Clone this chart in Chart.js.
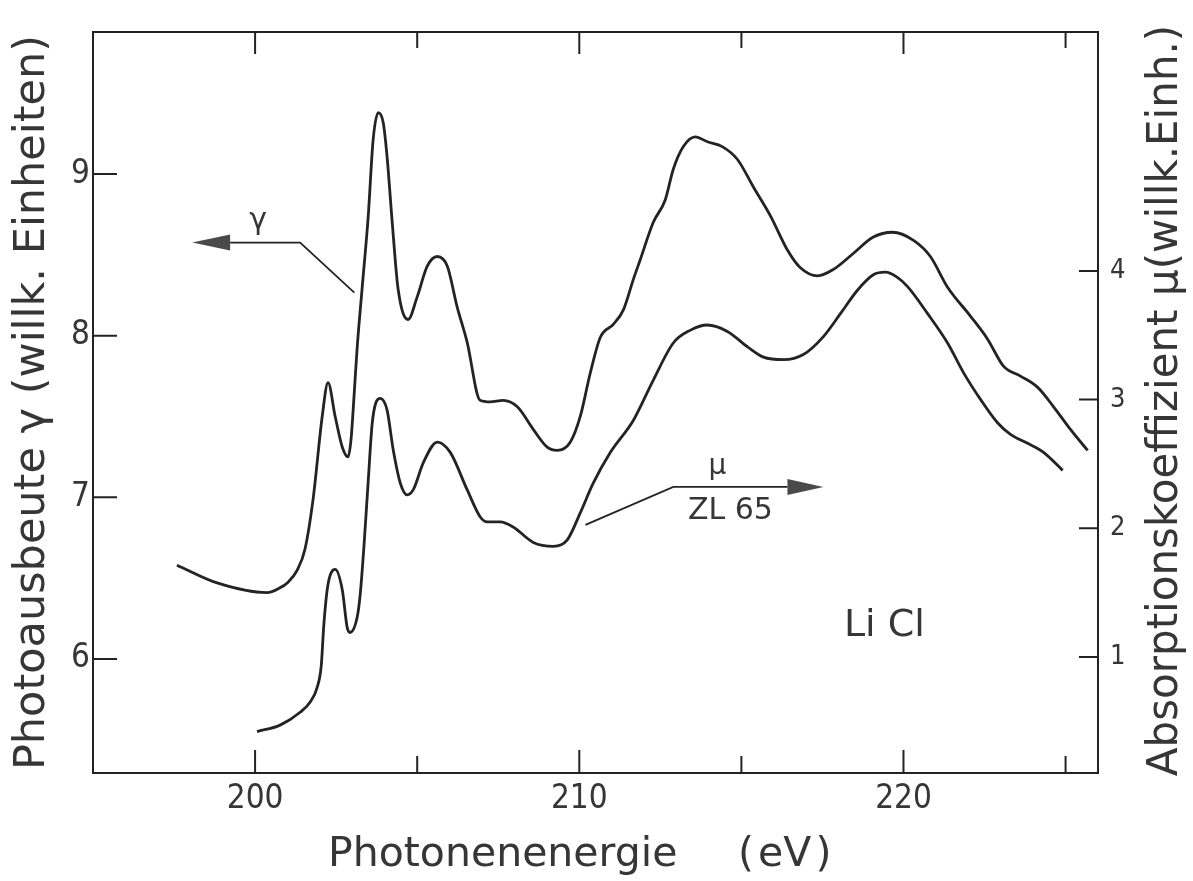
<!DOCTYPE html>
<html lang="de">
<head>
<meta charset="UTF-8">
<title>LiCl - Photoausbeute und Absorption</title>
<script src="https://cdn.jsdelivr.net/npm/chart.js"></script>
<style>
    html, body { margin: 0; padding: 0; background: #fff; }
    canvas { display: block; }
</style>
</head>
<body>
<canvas id="licl" width="1193" height="881"></canvas>
<script>
    // Photoausbeute gamma (left axis)
    const gammaEnergy = [197.59, 198.83, 200.37, 200.77, 200.99, 201.30, 201.54, 201.79, 202.07, 202.25,
        202.47, 202.69, 202.87, 202.96, 203.05, 203.15, 203.30, 203.49, 203.64, 203.80,
        203.95, 204.07, 204.23, 204.41, 204.72, 205.00, 205.31, 205.62, 205.93, 206.23,
        206.54, 206.94, 207.25, 207.65, 208.09, 208.58, 209.01, 209.32, 209.72, 210.03,
        210.34, 210.65, 211.05, 211.36, 211.67, 211.88, 212.28, 212.65, 212.90, 213.21,
        213.58, 213.95, 214.41, 214.88, 215.37, 215.90, 216.42, 216.82, 217.35, 217.84,
        218.46, 219.07, 219.66, 220.31, 220.83, 221.36, 222.07, 222.59, 223.09, 223.61,
        224.14, 224.63, 225.15, 225.68];
    const gammaYield = [6.58, 6.47, 6.41, 6.44, 6.47, 6.55, 6.68, 6.99, 7.50, 7.71,
        7.50, 7.31, 7.25, 7.36, 7.62, 7.93, 8.29, 8.74, 9.21, 9.38,
        9.32, 9.11, 8.70, 8.29, 8.10, 8.24, 8.43, 8.49, 8.43, 8.18,
        7.96, 7.60, 7.59, 7.60, 7.56, 7.42, 7.31, 7.29, 7.34, 7.50,
        7.77, 7.99, 8.07, 8.16, 8.35, 8.47, 8.70, 8.84, 9.03, 9.17,
        9.23, 9.20, 9.17, 9.09, 8.92, 8.74, 8.53, 8.42, 8.37, 8.41,
        8.51, 8.61, 8.64, 8.59, 8.49, 8.30, 8.12, 7.98, 7.81, 7.75,
        7.68, 7.56, 7.42, 7.29];

    // Absorptionskoeffizient mu, ZL 65 (right axis)
    const muEnergy = [200.06, 200.77, 201.39, 201.70, 201.91, 202.04, 202.12, 202.24, 202.47, 202.69,
        202.84, 202.93, 203.15, 203.24, 203.36, 203.49, 203.61, 203.73, 203.86, 204.07,
        204.26, 204.48, 204.69, 204.88, 205.19, 205.62, 206.02, 206.54, 206.94, 207.16,
        207.56, 207.96, 208.58, 209.20, 209.63, 210.03, 210.43, 210.96, 211.67, 212.28,
        212.90, 213.43, 213.95, 214.57, 215.19, 215.68, 216.30, 216.91, 217.53, 218.06,
        218.58, 219.07, 219.44, 219.81, 220.12, 220.74, 221.36, 221.85, 222.38, 222.90,
        223.30, 223.83, 224.32, 224.91];
    const muAbsorption = [0.42, 0.47, 0.57, 0.65, 0.76, 0.93, 1.25, 1.55, 1.68, 1.52,
        1.23, 1.19, 1.31, 1.48, 1.87, 2.37, 2.81, 2.98, 3.01, 2.92,
        2.61, 2.35, 2.26, 2.30, 2.51, 2.67, 2.59, 2.30, 2.09, 2.05,
        2.05, 2.01, 1.89, 1.86, 1.91, 2.12, 2.35, 2.59, 2.84, 3.15,
        3.44, 3.54, 3.58, 3.53, 3.41, 3.33, 3.31, 3.35, 3.49, 3.67,
        3.85, 3.97, 3.99, 3.95, 3.88, 3.67, 3.44, 3.21, 3.00, 2.82,
        2.73, 2.66, 2.59, 2.45];

    const xMajorTicks = [200, 210, 220];
    const xMinorTicks = [205, 215, 225];
    const yLeftTicks = [6, 7, 8, 9];
    const yRightTicks = [1, 2, 3, 4];

    const INK = '#232323';
    const TEXT = '#363636';
    const FONT = "'DejaVu Sans', sans-serif";
    const NARROW = "'DejaVu Sans Condensed', 'DejaVu Sans', sans-serif";

    // pointer arrows and labels, placed in axis units
    const gammaPointer = {path: [[203.06, 8.266], [201.39, 8.576], [199.23, 8.576]], tip: 198.06};
    const muPointer = {path: [[210.19, 2.026], [212.90, 2.321], [216.42, 2.321]], tip: 217.53};

    const toPoints = (xs, ys) => xs.map((x, i) => ({x: x, y: ys[i]}));
    const fixTicks = values => scale => { scale.ticks = values.map(v => ({value: v})); };

    function arrow(ctx, pts, tipX) {
        const last = pts[pts.length - 1];
        ctx.beginPath();
        pts.forEach((p, i) => i ? ctx.lineTo(p[0], p[1]) : ctx.moveTo(p[0], p[1]));
        ctx.stroke();
        ctx.beginPath();
        ctx.moveTo(tipX, last[1]);
        ctx.lineTo(last[0], last[1] - 8);
        ctx.lineTo(last[0], last[1] + 8);
        ctx.closePath();
        ctx.fill();
    }

    // frame, inward ticks, pointers and free labels
    const decorations = {
        id: 'decorations',
        afterDatasetsDraw(chart) {
            const {ctx, chartArea: a, scales: {x, y, y1}} = chart;
            ctx.save();
            ctx.strokeStyle = INK;
            ctx.lineWidth = 2;
            ctx.strokeRect(a.left, a.top, a.right - a.left, a.bottom - a.top);

            ctx.beginPath();
            xMajorTicks.forEach(v => {
                const px = x.getPixelForValue(v);
                ctx.moveTo(px, a.bottom); ctx.lineTo(px, a.bottom - 23);
                ctx.moveTo(px, a.top); ctx.lineTo(px, a.top + 22);
            });
            xMinorTicks.forEach(v => {
                const px = x.getPixelForValue(v);
                ctx.moveTo(px, a.bottom); ctx.lineTo(px, a.bottom - 17);
                ctx.moveTo(px, a.top); ctx.lineTo(px, a.top + 16);
            });
            yLeftTicks.forEach(v => {
                const py = y.getPixelForValue(v);
                ctx.moveTo(a.left, py); ctx.lineTo(a.left + 24, py);
            });
            yRightTicks.forEach(v => {
                const py = y1.getPixelForValue(v);
                ctx.moveTo(a.right, py); ctx.lineTo(a.right - 19, py);
            });
            ctx.stroke();

            ctx.fillStyle = '#4a4a4a';
            ctx.lineWidth = 1.8;
            arrow(ctx, gammaPointer.path.map(p => [x.getPixelForValue(p[0]), y.getPixelForValue(p[1])]),
                x.getPixelForValue(gammaPointer.tip));
            arrow(ctx, muPointer.path.map(p => [x.getPixelForValue(p[0]), y1.getPixelForValue(p[1])]),
                x.getPixelForValue(muPointer.tip));

            ctx.fillStyle = TEXT;
            ctx.textAlign = 'center';
            ctx.textBaseline = 'middle';
            ctx.font = `30px ${FONT}`;
            ctx.fillText('γ', x.getPixelForValue(200.09), y.getPixelForValue(8.706));
            ctx.font = `28px ${FONT}`;
            ctx.fillText('μ', x.getPixelForValue(214.26), y1.getPixelForValue(2.477));
            ctx.font = `30px ${FONT}`;
            ctx.fillText('ZL 65', x.getPixelForValue(214.66), y1.getPixelForValue(2.135));
            ctx.font = `38px ${FONT}`;
            ctx.fillText('Li Cl', x.getPixelForValue(219.41), y1.getPixelForValue(1.241));

            // x axis title
            ctx.font = `41px ${FONT}`;
            ctx.textAlign = 'left';
            ctx.textBaseline = 'alphabetic';
            ctx.fillText('Photonenenergie', 328, 866);
            ctx.fillText('(\u200aeV\u200a)', 738, 866);

            // right axis title, reading upwards like the left one
            ctx.font = `42px ${FONT}`;
            ctx.textAlign = 'center';
            ctx.translate(1177, (a.top + a.bottom) / 2 - 2);
            ctx.rotate(-Math.PI / 2);
            ctx.fillText('Absorptionskoeffizient μ(willk.Einh.)', 0, 0);
            ctx.restore();
        }
    };

    new Chart(document.getElementById('licl'), {
        type: 'line',
        data: {
            datasets: [{
                label: 'γ',
                data: toPoints(gammaEnergy, gammaYield),
                yAxisID: 'y'
            }, {
                label: 'μ ZL 65',
                data: toPoints(muEnergy, muAbsorption),
                yAxisID: 'y1'
            }]
        },
        options: {
            responsive: false,
            animation: false,
            devicePixelRatio: 1,
            layout: {padding: {top: 32, left: 0, right: 0, bottom: 0}},
            elements: {
                point: {radius: 0},
                line: {borderColor: INK, borderWidth: 2.8, cubicInterpolationMode: 'monotone', fill: false}
            },
            plugins: {legend: {display: false}, tooltip: {enabled: false}},
            scales: {
                x: {
                    type: 'linear',
                    min: 195, max: 226,
                    grid: {display: false, drawTicks: false},
                    border: {display: false},
                    afterBuildTicks: fixTicks(xMajorTicks),
                    afterFit: s => { s.height = 108; },
                    ticks: {color: TEXT, font: {family: NARROW, size: 33}, padding: 7, maxRotation: 0}
                },
                y: {
                    type: 'linear',
                    position: 'left',
                    min: 5.294, max: 9.879,
                    grid: {display: false, drawTicks: false},
                    border: {display: false},
                    afterBuildTicks: fixTicks(yLeftTicks),
                    afterFit: s => { s.width = 93; },
                    ticks: {color: TEXT, font: {family: NARROW, size: 33}, padding: 3},
                    title: {
                        display: true,
                        text: 'Photoausbeute γ (willk. Einheiten)',
                        color: TEXT,
                        font: {family: FONT, size: 43},
                        padding: {top: 7, bottom: 0}
                    }
                },
                y1: {
                    type: 'linear',
                    position: 'right',
                    min: 0.098, max: 5.857,
                    grid: {display: false, drawTicks: false},
                    border: {display: false},
                    afterBuildTicks: fixTicks(yRightTicks),
                    afterFit: s => { s.width = 95; },
                    ticks: {color: TEXT, font: {family: NARROW, size: 27}, padding: 12}
                }
            }
        },
        plugins: [decorations]
    });
</script>
</body>
</html>
